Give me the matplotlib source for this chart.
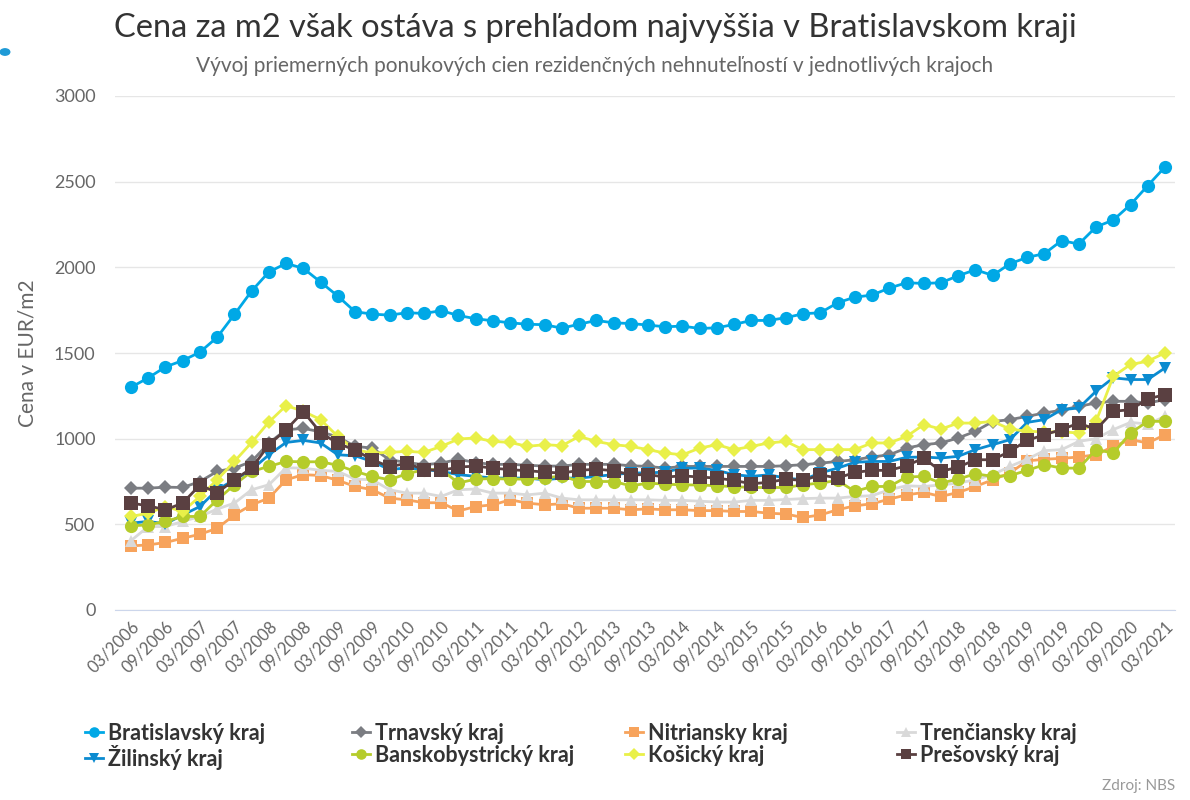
import numpy as np
import matplotlib
matplotlib.use("Agg")
from matplotlib import pyplot as plt
from matplotlib.patches import Circle

plt.rcParams['font.family'] = ['Lato', 'DejaVu Sans']

# quarters 03/2006 .. 03/2021
quarters = []
for y in range(2006, 2022):
    for m in ("03", "06", "09", "12"):
        quarters.append(m + "/" + str(y))
quarters = quarters[:61]

bratislava = [1300,1355,1419,1456,1505,1592,1725,1862,1973,2023,1994,1914,1832,1741,1727,1721,1735,1731,1747,1719,1700,
              1688,1676,1668,1665,1645,1668,1690,1676,1672,1663,1653,1657,1643,1647,1667,1690,1690,1706,1729,1735,
              1793,1826,1838,1879,1910,1906,1910,1951,1986,1953,2021,2058,2080,2156,2136,2236,2276,2366,2477,2586]
trnava = [711,711,717,715,750,809,828,867,975,1052,1060,1040,1010,955,945,877,861,848,857,880,860,
          850,850,845,840,840,850,850,850,842,838,828,838,838,838,838,838,838,842,848,857,
          867,877,893,906,945,965,975,1004,1043,1100,1111,1130,1150,1166,1189,1208,1218,1218,1208,1228]
nitra = [374,380,394,419,442,477,555,614,653,760,790,785,757,721,702,653,643,626,626,578,604,
         614,643,624,614,620,594,594,594,585,590,585,585,580,580,575,575,565,560,540,555,
         585,608,620,647,672,686,663,686,721,760,800,870,880,885,893,906,955,994,975,1023]
trencin = [405,487,487,517,546,589,624,702,731,830,828,815,809,764,760,702,682,682,663,702,706,
           682,682,672,682,653,643,643,643,643,643,640,640,635,630,630,640,640,645,650,653,
           653,663,667,702,725,721,730,741,760,790,838,880,930,936,984,1000,1053,1095,1085,1130]
zilina = [507,517,503,555,604,702,760,819,906,978,990,975,906,900,867,819,830,820,809,790,780,
          770,770,770,760,770,770,780,790,800,800,805,828,828,815,790,780,789,770,760,800,
          828,862,867,867,891,893,887,897,936,965,994,1095,1111,1169,1179,1277,1355,1345,1345,1413]
bbystrica = [491,497,517,546,546,643,731,809,838,867,865,865,845,809,780,760,795,819,820,741,764,
             767,764,764,770,783,750,750,750,725,740,735,730,730,725,720,715,715,715,731,741,
             756,692,721,721,776,780,741,764,795,780,784,815,848,828,828,936,916,1033,1101,1101]
kosice = [546,565,604,575,663,760,867,978,1097,1193,1160,1111,1013,936,916,920,926,920,955,998,1004,
          984,978,955,965,959,1013,984,965,955,936,916,906,945,965,936,955,975,984,936,936,
          936,936,975,975,1013,1082,1056,1091,1091,1101,1056,1043,1040,1040,1033,1101,1364,1433,1452,1501]
presov = [624,608,585,624,730,684,760,828,965,1052,1158,1035,973,933,877,836,856,820,815,834,840,
          828,819,813,805,799,815,822,813,789,790,776,783,776,770,756,737,745,764,756,789,
          770,803,815,815,842,887,809,834,877,877,926,990,1023,1053,1091,1053,1160,1169,1232,1257]

# draw order / legend order
series = [
    ("Bratislavský kraj", bratislava, "#00a8e6", "o", 9.5),
    ("Trnavský kraj", trnava, "#7b7d82", "D", 7.5),
    ("Nitriansky kraj", nitra, "#f7a35c", "s", 9),
    ("Trenčiansky kraj", trencin, "#d9d9d9", "^", 9),
    ("Žilinský kraj", zilina, "#0b8bd0", "v", 9),
    ("Banskobystrický kraj", bbystrica, "#b5cc2b", "o", 9.5),
    ("Košický kraj", kosice, "#e9f049", "D", 7.5),
    ("Prešovský kraj", presov, "#5a4041", "s", 9.5),
]

fig = plt.figure(figsize=(11.9, 8), dpi=100)
ax = fig.add_axes([115/1190., 1-610/800., 1060/1190., 514/800.])

x = np.arange(len(quarters))
handles = []
for name, vals, col, mk, ms in series:
    h, = ax.plot(x, vals, color=col, lw=2, marker=mk, markersize=ms,
                 markeredgewidth=0, label=name)
    handles.append(h)

ax.set_ylim(0, 3000)
ax.set_xlim(-0.93, 60.58)
ax.set_yticks(np.arange(0, 3001, 500))
ax.yaxis.grid(True, color="#e6e6e6", lw=1)
ax.set_axisbelow(True)
for s in ("top", "right", "left"):
    ax.spines[s].set_visible(False)
ax.spines["bottom"].set_color("#ccd6eb")
ax.tick_params(axis="y", length=0, labelsize=13, labelcolor="#666666", pad=14)
ax.set_xticks(x[::2])
ax.set_xticklabels(quarters[::2], rotation=45, ha="right", va="top",
                   rotation_mode="anchor", fontsize=12, color="#666666")
ax.tick_params(axis="x", length=0, pad=6)
ax.set_ylabel("Cena v EUR/m2", fontsize=15, color="#666666", labelpad=12)

fig.text(0.5, 0.965, "Cena za m2 však ostáva s prehľadom najvyššia v Bratislavskom kraji",
         ha="center", va="center", fontsize=23.5, color="#333333")
fig.text(0.5, 0.918, "Vývoj priemerných ponukových cien rezidenčných nehnuteľností v jednotlivých krajoch",
         ha="center", va="center", fontsize=15, color="#666666")
fig.text(1175/1190., 1-786/800., "Zdroj: NBS", ha="right", va="center",
         fontsize=11, color="#999999")

# small dot at left edge
fig.patches.append(Circle((5/1190., 1-52/800.), 0.004, transform=fig.transFigure,
                          color="#1f9ad6", zorder=5))

# legend: 4 columns x 2 rows
col_x = [76, 343, 616, 888]
for c in range(4):
    hh = [handles[c], handles[c+4]]
    fig.legend(hh, [h.get_label() for h in hh], loc="upper left",
               bbox_to_anchor=(col_x[c]/1190., 1-714/800.), frameon=False,
               prop={"size": 15.5, "weight": "bold"}, labelcolor="#333333",
               handlelength=0.85, handletextpad=0.25, labelspacing=0.05,
               borderaxespad=0, markerscale=0.8)

fig.savefig("out.png", dpi=100)
